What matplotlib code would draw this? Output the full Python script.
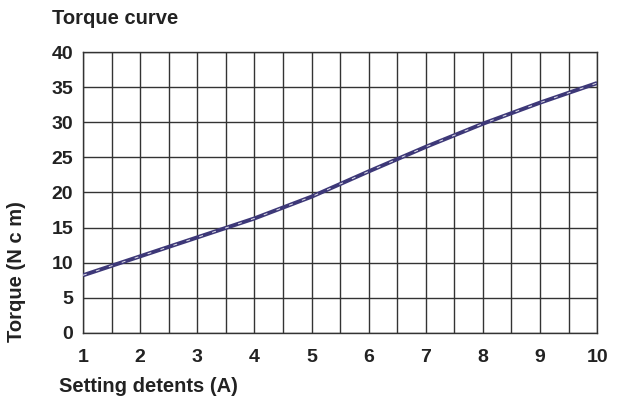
import matplotlib
matplotlib.use("Agg")
import matplotlib.pyplot as plt
from matplotlib.ticker import MultipleLocator

plt.rcParams['font.family'] = ['Liberation Sans', 'DejaVu Sans']

# torque at each setting detent
detents = [1, 2, 3, 4, 5, 6, 7, 8, 9, 10]
torque = [8.2, 10.9, 13.6, 16.3, 19.4, 23.0, 26.5, 29.8, 32.8, 35.6]

x_ticks = [1, 2, 3, 4, 5, 6, 7, 8, 9, 10]
y_ticks = [0, 5, 10, 15, 20, 25, 30, 35, 40]

txt = '#222222'
gridc = '#333333'
linec = '#3d3878'

fig = plt.figure(figsize=(6.24, 4.01), dpi=100)
ax = fig.add_axes([0.133, 0.170, 0.824, 0.700])

ax.set_xlim(1, 10)
ax.set_ylim(0, 40)
ax.set_xticks(x_ticks)
ax.set_yticks(y_ticks)
ax.xaxis.set_minor_locator(MultipleLocator(0.5))
ax.grid(True, which='both', color=gridc, lw=1.0)
ax.set_axisbelow(True)
for s in ax.spines.values():
    s.set_color(gridc)
    s.set_linewidth(1.0)

ax.tick_params(which='both', length=0)
ax.tick_params(axis='x', pad=12, labelsize=14, colors=txt)
ax.tick_params(axis='y', pad=7, labelsize=14, colors=txt)
for lab in ax.get_xticklabels() + ax.get_yticklabels():
    lab.set_fontweight('bold')

ax.plot(detents, torque, color=linec, lw=2.9, solid_capstyle='butt', zorder=3)
ax.plot(detents, torque, color='white', lw=0.7, ls=(0, (4, 10)), zorder=4, alpha=0.85)

fig.text(0.083, 0.955, 'Torque curve', fontsize=14.5, fontweight='bold', color=txt,
         ha='left', va='center')
fig.text(0.095, 0.036, 'Setting detents (A)', fontsize=14.5, fontweight='bold', color=txt,
         ha='left', va='center')
fig.text(0.027, 0.147, 'Torque (N c m)', fontsize=14.5, fontweight='bold', color=txt,
         rotation=90, ha='center', va='bottom')

fig.savefig('out.png', dpi=100)
